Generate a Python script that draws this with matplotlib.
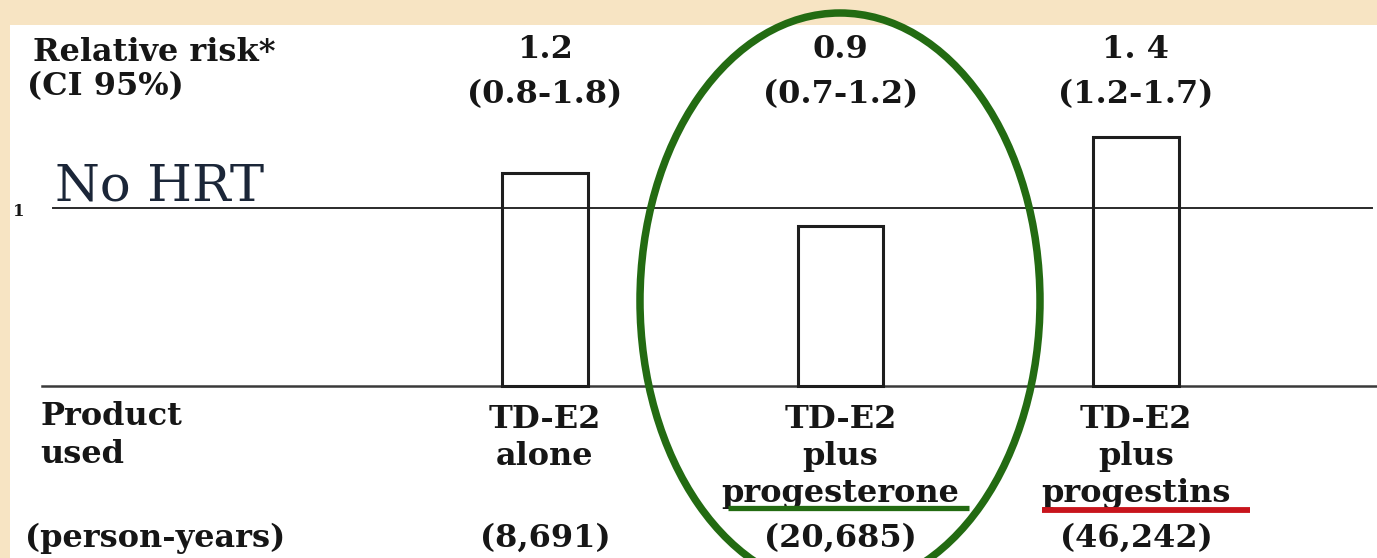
import matplotlib
matplotlib.use("Agg")
import matplotlib.pyplot as plt
from matplotlib.patches import Ellipse, Rectangle
from matplotlib.transforms import blended_transform_factory

# data
rr = [1.2, 0.9, 1.4]
rr_labels = ["1.2", "0.9", "1. 4"]
ci_labels = ["(0.8-1.8)", "(0.7-1.2)", "(1.2-1.7)"]
product_lines = [["TD-E2", "alone"],
                 ["TD-E2", "plus", "progesterone"],
                 ["TD-E2", "plus", "progestins"]]
person_years = ["(8,691)", "(20,685)", "(46,242)"]
reference = 1.0

W, H = 1377, 558
BEIGE = "#F7E4C3"
INK = "#161616"
SERIF = ["DejaVu Serif"]

fig = plt.figure(figsize=(W / 100, H / 100), dpi=100, facecolor=BEIGE)
fig.patches.append(Rectangle((10 / W, 0), 1, 1 - 25 / H, transform=fig.transFigure,
                             facecolor="white", edgecolor="none", zorder=-10))
ax = fig.add_axes([0, 0, 1, 1])
ax.set_facecolor("none")
ax.axis("off")

# pixel mapping: baseline at y=386px, RR 1 at 208px, bars every 295.5px starting at 545px
unit = 386 - 208.3
ax.set_ylim((386 - H) / unit, 386 / unit)
ax.set_xlim(-545 / 295.5, (W - 545) / 295.5)


def fy(p):
    return 1 - p / H


def fx(p):
    return p / W


idx = list(range(len(rr)))
ax.bar(idx, rr, width=0.29, fill=False, edgecolor="#1e1e1e", linewidth=2.2, zorder=3)
ax.axhline(0, xmin=fx(42), xmax=1, color="#3a3a3a", lw=1.8, zorder=2)
ax.axhline(reference, xmin=fx(53), xmax=fx(1372), color="#2a2a2a", lw=1.4, zorder=2)

colx = blended_transform_factory(ax.transData, fig.transFigure)
bold = dict(family=SERIF, weight="bold", color=INK, fontsize=23)

for i in idx:
    ax.text(i, fy(58), rr_labels[i], transform=colx, ha="center", va="baseline", **bold)
    ax.text(i, fy(103), ci_labels[i], transform=colx, ha="center", va="baseline", **bold)
    for j, line in enumerate(product_lines[i]):
        ax.text(i, fy(428 + 37 * j), line, transform=colx, ha="center", va="baseline", **bold)
    ax.text(i, fy(547), person_years[i], transform=colx, ha="center", va="baseline", **bold)

ax.text(fx(33), fy(61), "Relative risk*", transform=fig.transFigure, ha="left", va="baseline", **bold)
ax.text(fx(27), fy(95), "(CI 95%)", transform=fig.transFigure, ha="left", va="baseline", **bold)
ax.text(fx(40), fy(425), "Product", transform=fig.transFigure, ha="left", va="baseline", **bold)
ax.text(fx(40), fy(463), "used", transform=fig.transFigure, ha="left", va="baseline", **bold)
ax.text(fx(25), fy(547), "(person-years)", transform=fig.transFigure, ha="left", va="baseline", **bold)
ax.text(fx(13), fy(211), "1", transform=fig.transFigure, ha="left", va="center",
        family=SERIF, weight="bold", color=INK, fontsize=12)
ax.text(fx(55), fy(200), "No HRT", transform=fig.transFigure, ha="left", va="baseline",
        family=SERIF, color="#1b2638", fontsize=37)

# highlight marks
ax.plot([fx(728), fx(969)], [fy(508), fy(508)], transform=fig.transFigure,
        color="#236B12", lw=3.8, solid_capstyle="butt", zorder=4)
ax.plot([fx(1042), fx(1250)], [fy(510), fy(510)], transform=fig.transFigure,
        color="#C8141C", lw=4.2, solid_capstyle="butt", zorder=4)
ax.add_patch(Ellipse((fx(840), fy(301)), 400 / W, 576 / H, transform=fig.transFigure,
                     fill=False, edgecolor="#236B12", lw=5.4, clip_on=False, zorder=5))

fig.savefig("out.png", dpi=100, facecolor=BEIGE)
